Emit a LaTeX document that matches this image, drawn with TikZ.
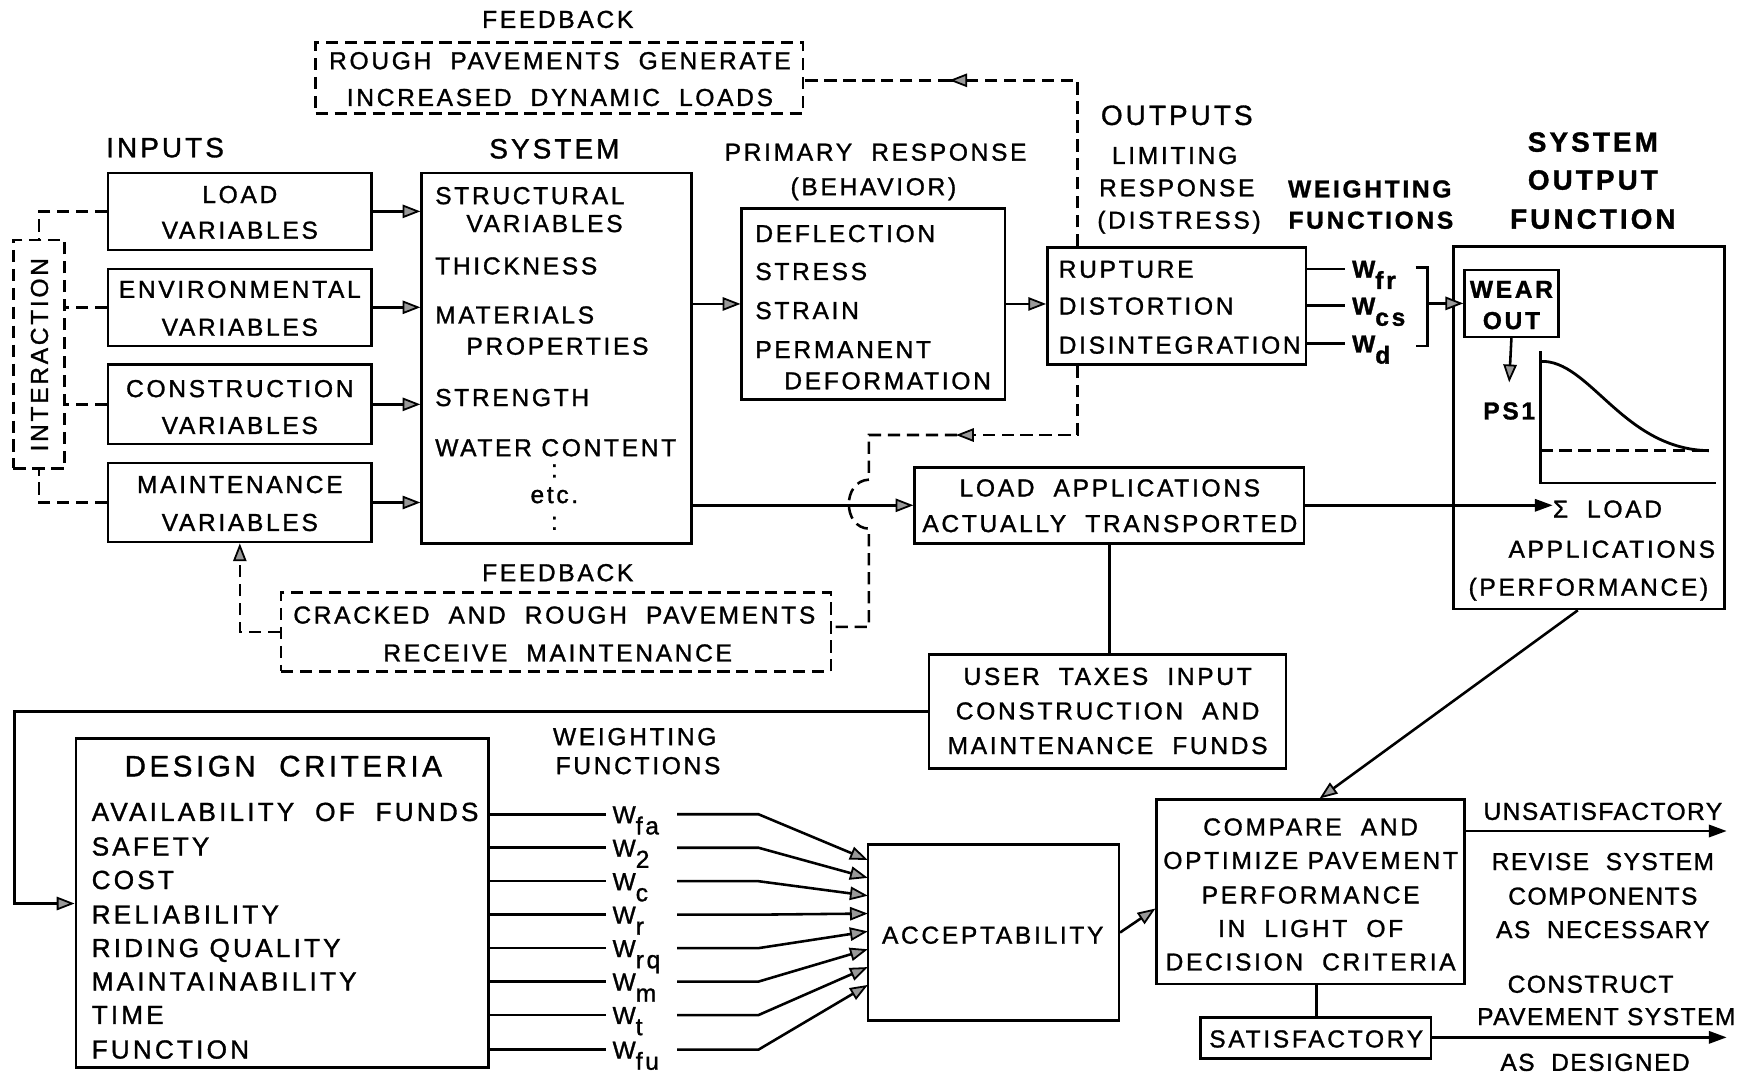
\documentclass[tikz,border=0pt]{standalone}
\usepackage{fontspec}
\setmainfont{Liberation Sans}[LetterSpace=11, FakeBold=1.2]
\newfontfamily\dcfont{Liberation Sans}[LetterSpace=12, FakeBold=1.2]
\newfontfamily\nrfont{Liberation Sans}[LetterSpace=6, FakeBold=1.2]
\usetikzlibrary{arrows.meta,fit}
\newcommand\Wsub[1]{W\raisebox{-10pt}{#1}}
\begin{document}
\begin{tikzpicture}[x=1pt,y=-1pt,
  every node/.style={font=\fontsize{22}{26}\selectfont},
  box/.style={draw, line width=2.3pt, inner sep=0pt},
  dbox/.style={draw, line width=2.3pt, inner sep=0pt, dash pattern=on 11pt off 6pt},
  ln/.style={line width=2.3pt},
  dl/.style={line width=2.3pt, dash pattern=on 11pt off 6pt},
  oa/.style={-{Triangle[length=16pt,width=12pt,fill=black!40,line width=1.6pt]}},
  fa/.style={-{Triangle[length=16pt,width=11pt]}},
  t/.style={inner sep=0pt, text height=16pt, text depth=0pt, anchor=center},
  tw/.style={t, anchor=west},
  nr/.style={t, font=\nrfont\fontsize{22}{26}\selectfont},
  big/.style={t, font=\fontsize{25}{28}\selectfont},
  bigb/.style={t, font=\fontsize{25}{28}\selectfont\bfseries},
  tb/.style={t, font=\fontsize{22}{26}\selectfont\bfseries},
  dc/.style={tw, font=\dcfont\fontsize{23.5}{26}\selectfont},
]
\useasboundingbox (0,0) rectangle (1568,966);
\fill[white] (0,0) rectangle (1568,966);

% ---------- top feedback ----------
\node[t] (fbl1) at (500,17) {FEEDBACK};
\node[dbox, fit={(283,38)(720,102)}] (fb1) {};
\node[t] (fb1a) at (502,54) {ROUGH\ \ PAVEMENTS\ \ GENERATE};
\node[t] (fb1b) at (502,87) {INCREASED\ \ DYNAMIC\ \ LOADS};

% ---------- inputs ----------
\node[big] (inputs) at (148,133) {INPUTS};
\node[box, fit={(97,155)(333,224)}] (load) {};
\node[t] (loadA) at (215,174) {LOAD};
\node[t] (loadB) at (215,206) {VARIABLES};
\node[box, fit={(97,241)(333,310)}] (env) {};
\node[t] (envA) at (215,259) {ENVIRONMENTAL};
\node[t] (envB) at (215,293) {VARIABLES};
\node[box, fit={(97,327)(333,398)}] (cons) {};
\node[t] (consA) at (215,348) {CONSTRUCTION};
\node[t] (consB) at (215,381) {VARIABLES};
\node[box, fit={(97,415)(333,486)}] (maint) {};
\node[t] (maintA) at (215,434) {MAINTENANCE};
\node[t] (maintB) at (215,468) {VARIABLES};

\node[dbox, fit={(12,215)(58,420)}] (inter) {};
\node[t, rotate=90] (intert) at (35,318) {INTERACTION};
\draw[dl] (load.west) -| (inter.north);
\draw[dl] (env.west) -- (env.west -| inter.east);
\draw[dl] (cons.west) -- (cons.west -| inter.east);
\draw[dl] (maint.west) -| (inter.south);

% ---------- system ----------
\node[big] (systl) at (497,134) {SYSTEM};
\node[box, fit={(378,155)(620,487)}] (sys) {};
\node[tw] (s1) at (390,175) {STRUCTURAL};
\node[tw] (s2) at (418,200) {VARIABLES};
\node[tw] (s3) at (390,238) {THICKNESS};
\node[tw] (s4) at (390,282) {MATERIALS};
\node[tw] (s5) at (418,310) {PROPERTIES};
\node[tw] (s6) at (390,356) {STRENGTH};
\node[tw] (s7) at (390,401) {WATER\ CONTENT};
\node[t] (s8) at (497,420) {:};
\node[t] (s9) at (497,443) {etc.};
\node[t] (s10) at (497,467) {:};
\foreach \n in {load,env,cons,maint}
  \draw[ln,oa] (\n.east) -- (\n.east -| sys.west);

% ---------- primary response ----------
\node[t] (prl1) at (785,136) {PRIMARY\ \ RESPONSE};
\node[t] (prl2) at (783,167) {(BEHAVIOR)};
\node[box, fit={(665,187)(901,358)}] (prim) {};
\node[tw] (p1) at (677,209) {DEFLECTION};
\node[tw] (p2) at (677,243) {STRESS};
\node[tw] (p3) at (677,278) {STRAIN};
\node[tw] (p4) at (677,313) {PERMANENT};
\node[tw] (p5) at (703,341) {DEFORMATION};
\draw[ln,oa] (prim.west -| sys.east) -- (prim.west);

% ---------- outputs ----------
\node[big] (outl) at (1055,104) {OUTPUTS};
\node[t] (outl2) at (1053,139) {LIMITING};
\node[t] (outl3) at (1055,168) {RESPONSE};
\node[t] (outl4) at (1057,197) {(DISTRESS)};
\node[tb] (wfl1) at (1228,169) {WEIGHTING};
\node[tb] (wfl2) at (1229,197) {FUNCTIONS};
\node[box, fit={(939,222)(1171,327)}] (rup) {};
\node[tw] (r1) at (949,241) {RUPTURE};
\node[tw] (r2) at (949,274) {DISTORTION};
\node[tw] (r3) at (949,309) {DISINTEGRATION};
\draw[ln,oa] (prim.east) -- (prim.east -| rup.west);

\node[tw, font=\fontsize{22}{26}\selectfont\bfseries] (wfr) at (1212,241) {\Wsub{fr}};
\node[tw, font=\fontsize{22}{26}\selectfont\bfseries] (wcs) at (1212,274) {\Wsub{cs}};
\node[tw, font=\fontsize{22}{26}\selectfont\bfseries] (wd) at (1212,308) {\Wsub{d}};
\draw[ln] (wfr.west -| rup.east) -- ([xshift=-6pt]wfr.west);
\draw[ln] (wcs.west -| rup.east) -- ([xshift=-6pt]wcs.west);
\draw[ln] (wd.west -| rup.east) -- ([xshift=-6pt]wd.west);
\draw[ln] (1269,240) -- (1280,240) -- (1280,310) -- (1269,310);
\coordinate (brk) at (1280,272);

% ---------- system output function ----------
\node[bigb] (sofl1) at (1428,128) {SYSTEM};
\node[bigb] (sofl2) at (1428,162) {OUTPUT};
\node[bigb] (sofl3) at (1428,197) {FUNCTION};
\node[box, fit={(1303,221)(1546,546)}] (sof) {};
\node[box, fit={(1313,242)(1397,302)}] (wear) {};
\node[t, font=\fontsize{22}{26}\selectfont\bfseries] (wearA) at (1355,259) {WEAR};
\node[t, font=\fontsize{22}{26}\selectfont\bfseries] (wearB) at (1355,287) {OUT};
\draw[ln,oa] (brk) -- (brk -| wear.west);
\node[tb] (psi) at (1353,368) {PS1};
\draw[ln,oa] (wear.south) -- ([yshift=17pt]psi.north);
\draw[ln] (1381,315) -- (1381,433) -- (1538,433);
\draw[dl] (1381,404) -- (1533,404);
\draw[line width=2.5pt] (1381,324) .. controls (1425,322) and (1455,403) .. (1532,404);
\node[tw] (sigma) at (1392,456) {Σ\ \ LOAD};
\node[t] (apl) at (1445,492) {APPLICATIONS};
\node[t] (perf) at (1424,526) {(PERFORMANCE)};

% ---------- load applications ----------
\node[box, fit={(820,419)(1169,487)}] (lapp) {};
\node[t] (la1) at (995,437) {LOAD\ \ APPLICATIONS};
\node[t] (la2) at (995,469) {ACTUALLY\ \ TRANSPORTED};
\draw[ln,oa] (lapp.west -| sys.east) -- (lapp.west);
\draw[ln,fa] (lapp.east) -- (lapp.east -| sigma.west);

% ---------- user taxes ----------
\node[box, fit={(833,587)(1153,689)}] (ut) {};
\node[t] (ut1) at (993,606) {USER\ \ TAXES\ \ INPUT};
\node[t] (ut2) at (993,637) {CONSTRUCTION\ \ AND};
\node[t] (ut3) at (993,668) {MAINTENANCE\ \ FUNDS};
\draw[ln] (lapp.south) -- (lapp.south |- ut.north);

% ---------- lower feedback ----------
\node[t] (fbl2) at (500,513) {FEEDBACK};
\node[dbox, fit={(252,531)(745,602)}] (fb2) {};
\node[t] (fb2a) at (497,551) {CRACKED\ \ AND\ \ ROUGH\ \ PAVEMENTS};
\node[t] (fb2b) at (500,585) {RECEIVE\ \ MAINTENANCE};
\draw[dl,oa] (fb2.west) -| (maint.south);

% dashed return lines
\coordinate (dx) at (966,72);
\coordinate (tmid) at (852,72);
\draw[dl] (rup.north -| dx) -- (dx) -- (tmid);
\draw[ln,oa] ([xshift=2pt]tmid) -- ([xshift=-1pt]tmid);
\draw[dl] (tmid) -- (dx -| fb1.east);
\coordinate (bx) at (966,390);
\coordinate (bmid) at (858,390);
\coordinate (bl) at (779,390);
\draw[dl] (rup.south -| bx) -- (bx) -- (bmid);
\draw[ln,oa] ([xshift=2pt]bmid) -- ([xshift=-1pt]bmid);
\draw[dl] (bmid) -- (bl) -- (779,430) .. controls (755,431) and (755,473) .. (779,474) -- (779,562) -- (fb2.east |- 0,562);

% ---------- funds return line ----------
\coordinate (lc) at (13,810);
\node[box, fit={(68,662)(438,957)}] (dc) {};
\draw[ln,oa] (ut.west) -| (lc) -- (lc -| dc.west);
\node[t, font=\dcfont\fontsize{26.5}{30}\selectfont] (dct) at (254,688) {DESIGN\ \ CRITERIA};
\node[dc] (d1) at (82,728) {AVAILABILITY\ \ OF\ \ FUNDS};
\node[dc] (d2) at (82,759) {SAFETY};
\node[dc] (d3) at (82,789) {COST};
\node[dc] (d4) at (82,820) {RELIABILITY};
\node[dc] (d5) at (82,850) {RIDING\ QUALITY};
\node[dc] (d6) at (82,880) {MAINTAINABILITY};
\node[dc] (d7) at (82,910) {TIME};
\node[dc] (d8) at (82,941) {FUNCTION};

\node[t] (wfb1) at (569,660) {WEIGHTING};
\node[t] (wfb2) at (572,686) {FUNCTIONS};

\node[box, fit={(778,757)(1003,915)}] (acc) {};
\node[t] (acct) at (890,838) {ACCEPTABILITY};

\foreach \i/\y/\s/\ty in {1/730/fa/771, 2/760/2/787, 3/790/c/803, 4/820/r/819, 5/850/rq/835, 6/880/m/851, 7/910/t/867, 8/941/fu/883} {
  \node[tw] (w\i) at (549,\y) {\Wsub{\s}};
  \coordinate (wr\i) at (607,\y);
  \coordinate (wk\i) at (680,\y);
  \coordinate (wt\i) at (778,\ty);
  \draw[ln] (w\i.west -| dc.east) -- ([xshift=-6pt]w\i.west);
  \draw[ln,oa] (wr\i) -- (wk\i) -- (wt\i);
}

% ---------- compare ----------
\node[box, fit={(1037,717)(1313,882)}] (cmp) {};
\node[t] (c1) at (1175,741) {COMPARE\ \ AND};
\node[t] (c2) at (1175,771) {OPTIMIZE\ PAVEMENT};
\node[t] (c3) at (1175,802) {PERFORMANCE};
\node[t] (c4) at (1175,832) {IN\ \ LIGHT\ \ OF};
\node[t] (c5) at (1175,862) {DECISION\ \ CRITERIA};
\draw[ln,oa] (acc.east) -- ([yshift=-15pt]cmp.west);
\draw[ln,oa] ([xshift=-10pt]sof.south) -- ([xshift=8pt]cmp.north);

\coordinate (uend) at (1548,745);
\draw[ln,fa] (cmp.east |- uend) -- (uend);
\node[nr] (u1) at (1437,727) {UNSATISFACTORY};
\node[nr] (u2) at (1437,772) {REVISE\ \ SYSTEM};
\node[nr] (u3) at (1437,803) {COMPONENTS};
\node[nr] (u4) at (1437,833) {AS\ \ NECESSARY};

\node[box, fit={(1076,912)(1283,949)}] (sat) {};
\node[t] (satt) at (1180,931) {SATISFACTORY};
\draw[ln] (cmp.south -| satt) -- (sat.north -| satt);
\coordinate (send) at (1548,930);
\draw[ln,fa] (sat.east |- send) -- (send);
\node[nr] (k1) at (1426,882) {CONSTRUCT};
\node[nr] (k2) at (1440,911) {PAVEMENT\ SYSTEM};
\node[nr] (k3) at (1430,952) {AS\ \ DESIGNED};
\end{tikzpicture}
\end{document}
